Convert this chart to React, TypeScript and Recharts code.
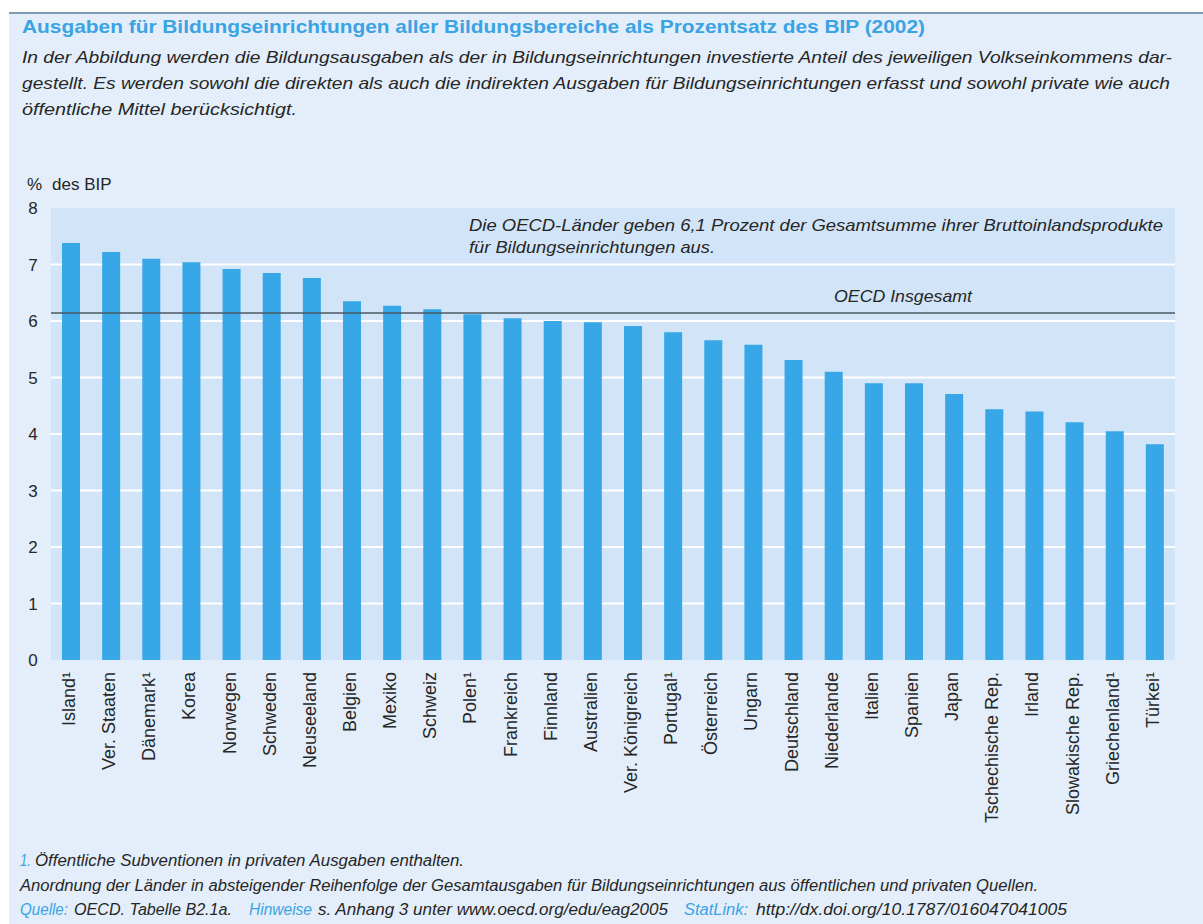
import { BarChart, Bar, XAxis, YAxis, CartesianGrid, ReferenceLine, Label } from "recharts";

// Ausgaben für Bildungseinrichtungen in % des BIP, 2002
const countries = [
  "Island¹", "Ver. Staaten", "Dänemark¹", "Korea", "Norwegen", "Schweden", "Neuseeland",
  "Belgien", "Mexiko", "Schweiz", "Polen¹", "Frankreich", "Finnland", "Australien",
  "Ver. Königreich", "Portugal¹", "Österreich", "Ungarn", "Deutschland", "Niederlande",
  "Italien", "Spanien", "Japan", "Tschechische Rep.", "Irland", "Slowakische Rep.",
  "Griechenland¹", "Türkei¹",
];
const spending = [
  7.38, 7.22, 7.1, 7.04, 6.92, 6.85, 6.76,
  6.35, 6.27, 6.21, 6.12, 6.05, 6.0, 5.98,
  5.91, 5.8, 5.66, 5.58, 5.31, 5.1,
  4.9, 4.9, 4.71, 4.44, 4.4, 4.21,
  4.05, 3.82,
];
const yTicks = [0, 1, 2, 3, 4, 5, 6, 7, 8];
const gridValues = [1, 2, 3, 4, 5, 6, 7];
const oecdTotal = 6.14;

const data = countries.map((country, i) => ({ country, value: spending[i] }));

const INK = "#262626";
const BLUE = "#3aa3e4";
const SANS = "'Liberation Sans', Arial, sans-serif";

function CountryTick({ x, y, payload }: any) {
  return (
    <text
      x={x}
      y={y}
      transform={`rotate(-90 ${x} ${y})`}
      textAnchor="end"
      dy="0.22em"
      fill={INK}
      fontSize={18}
      fontFamily={SANS}
    >
      {payload.value}
    </text>
  );
}

function YTick({ x, y, payload }: any) {
  return (
    <text x={x - 6} y={y} textAnchor="middle" dy="0.36em" fill={INK} fontSize={17} fontFamily={SANS}>
      {payload.value}
    </text>
  );
}

function OecdLabel({ viewBox }: any) {
  return (
    <text
      x={viewBox.x + viewBox.width - 203}
      y={viewBox.y - 11}
      textAnchor="end"
      fill={INK}
      fontSize={17}
      fontStyle="italic"
      fontFamily={SANS}
      textLength={138}
      lengthAdjust="spacingAndGlyphs"
    >
      OECD Insgesamt
    </text>
  );
}

// stretched text line, so the narrow print font keeps its width
function Line({ x, y, w, children, color = INK, size = 16, italic = false, bold = false }: any) {
  return (
    <text
      x={x}
      y={y}
      fill={color}
      fontSize={size}
      fontFamily={SANS}
      fontStyle={italic ? "italic" : "normal"}
      fontWeight={bold ? 700 : 400}
      textLength={w}
      lengthAdjust="spacingAndGlyphs"
    >
      {children}
    </text>
  );
}

export default function App() {
  return (
    <div style={{ position: "absolute", left: 0, top: 0, width: 1203, height: 924, background: "#fff", overflow: "hidden" }}>
      <div
        style={{
          position: "absolute",
          left: 9,
          top: 12,
          right: 0,
          bottom: 0,
          background: "#e3eefa",
          borderTop: "2px solid #7f9cb6",
        }}
      />
      <div style={{ position: "absolute", left: 0, top: 0 }}>
        <BarChart
          width={1203}
          height={924}
          data={data}
          margin={{ top: 208, right: 28, bottom: 144, left: 11 }}
          barSize={18}
        >
          <CartesianGrid
            vertical={false}
            horizontalValues={gridValues}
            fill="#d2e5f8"
            fillOpacity={1}
            stroke="#ffffff"
            strokeWidth={2}
          />
          <XAxis
            dataKey="country"
            interval={0}
            axisLine={false}
            tickLine={false}
            tickSize={0}
            tickMargin={12}
            height={120}
            tick={<CountryTick />}
          />
          <YAxis
            domain={[0, 8]}
            ticks={yTicks}
            axisLine={false}
            tickLine={false}
            tickSize={0}
            tickMargin={12}
            width={40}
            tick={<YTick />}
          />
          <Bar dataKey="value" fill="#37a7e7" isAnimationActive={false} />
          <ReferenceLine y={oecdTotal} stroke="#4a5863" strokeWidth={1.5}>
            <Label content={<OecdLabel />} />
          </ReferenceLine>
        </BarChart>
      </div>
      <svg
        width={1203}
        height={924}
        style={{ position: "absolute", left: 0, top: 0, pointerEvents: "none" }}
      >
        <Line x={22} y={33} w={903} size={19} bold color={BLUE}>
          Ausgaben für Bildungseinrichtungen aller Bildungsbereiche als Prozentsatz des BIP (2002)
        </Line>
        <Line x={22} y={63} w={1150} size={17} italic>
          In der Abbildung werden die Bildungsausgaben als der in Bildungseinrichtungen investierte Anteil des jeweiligen Volkseinkommens dar-
        </Line>
        <Line x={22} y={89} w={1148} size={17} italic>
          gestellt. Es werden sowohl die direkten als auch die indirekten Ausgaben für Bildungseinrichtungen erfasst und sowohl private wie auch
        </Line>
        <Line x={22} y={115} w={275} size={17} italic>
          öffentliche Mittel berücksichtigt.
        </Line>

        <text x={27} y={190} fill={INK} fontSize={17} fontFamily={SANS}>
          %
        </text>
        <text x={52} y={190} fill={INK} fontSize={17} fontFamily={SANS}>
          des BIP
        </text>

        <Line x={469} y={231} w={694} size={17} italic>
          Die OECD-Länder geben 6,1 Prozent der Gesamtsumme ihrer Bruttoinlandsprodukte
        </Line>
        <Line x={469} y={253} w={246} size={17} italic>
          für Bildungseinrichtungen aus.
        </Line>

        <Line x={20} y={866} w={11} size={16} italic color={BLUE}>1.</Line>
        <Line x={35} y={866} w={429} size={16} italic>
          Öffentliche Subventionen in privaten Ausgaben enthalten.
        </Line>
        <Line x={20} y={891} w={1018} size={16} italic>
          Anordnung der Länder in absteigender Reihenfolge der Gesamtausgaben für Bildungseinrichtungen aus öffentlichen und privaten Quellen.
        </Line>
        <Line x={20} y={915} w={48} size={16} italic color={BLUE}>Quelle:</Line>
        <Line x={74} y={915} w={158} size={16} italic>OECD. Tabelle B2.1a.</Line>
        <Line x={249} y={915} w={63} size={16} italic color={BLUE}>Hinweise</Line>
        <Line x={318} y={915} w={350} size={16} italic>s. Anhang 3 unter www.oecd.org/edu/eag2005</Line>
        <Line x={684} y={915} w={64} size={16} italic color={BLUE}>StatLink:</Line>
        <Line x={756} y={915} w={311} size={16} italic>http://dx.doi.org/10.1787/016047041005</Line>
      </svg>
    </div>
  );
}
